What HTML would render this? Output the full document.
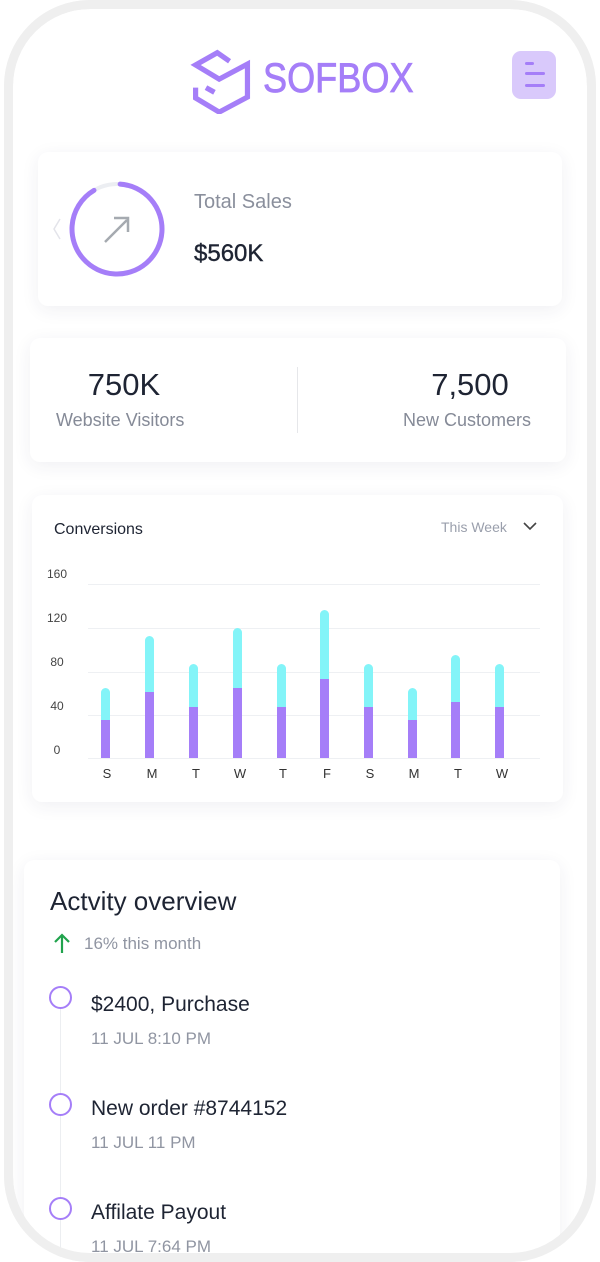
<!DOCTYPE html>
<html><head><meta charset="utf-8"><style>
*{margin:0;padding:0;box-sizing:border-box}
body{width:600px;height:1262px;background:#fff;position:relative;overflow:hidden;font-family:"Liberation Sans",sans-serif}
.abs{position:absolute}
.frame{left:4px;top:0;width:592px;height:1262px;border:9px solid #efefef;border-radius:86px;background:#fff;overflow:hidden}
.card{position:absolute;background:#fff;border-radius:10px;box-shadow:0 4px 18px rgba(40,40,80,0.07)}
.grid{position:absolute;left:88px;width:452px;height:1px;background:#eef0f3}
.yl{position:absolute;left:42px;width:30px;text-align:center;font-size:12px;color:#444}
.bar{position:absolute;width:9px;border-radius:5px 5px 0 0;background:#83f4f8;overflow:hidden}
.bar i{position:absolute;left:0;bottom:0;width:9px;background:#a57ef8}
.xl{position:absolute;top:766px;width:20px;text-align:center;font-size:13px;color:#333}
</style></head><body>
<div class="abs" style="left:0;top:195px;width:5px;height:170px;background:#eee"></div>
<div class="abs" style="left:0;top:445px;width:5px;height:85px;background:#eee"></div>
<div class="abs" style="right:0;top:375px;width:5px;height:80px;background:#eee"></div>
<div class="abs frame"></div>

<!-- logo -->
<svg class="abs" style="left:190px;top:48px" width="64" height="66" viewBox="0 0 64 70">
<g fill="none" stroke="#a57ef8" stroke-width="5.5" stroke-linejoin="miter">
<polyline points="40,14 27,5 4,18 29,33 59,17 59,52 29,68 4,53 4,42"/>
<line x1="15" y1="42" x2="24" y2="47"/>
</g></svg>
<div class="abs" style="left:263px;top:54px;font-size:42px;color:#a57ef8;transform:scaleX(0.86);transform-origin:left top;-webkit-text-stroke:0.8px #a57ef8">SOFBOX</div>
<div class="abs" style="left:512px;top:51px;width:44px;height:48px;border-radius:9px;background:#d9c9fb"></div>
<div class="abs" style="left:525px;top:62px;width:9px;height:3px;border-radius:2px;background:#a57ef8"></div>
<div class="abs" style="left:525px;top:72px;width:20px;height:3px;border-radius:2px;background:#a57ef8"></div>
<div class="abs" style="left:525px;top:84px;width:20px;height:3px;border-radius:2px;background:#a57ef8"></div>

<!-- total sales -->
<div class="card" style="left:38px;top:152px;width:524px;height:154px"></div>
<svg class="abs" style="left:40px;top:176px" width="130" height="108">
<circle cx="77" cy="53" r="45" fill="none" stroke="#eceef2" stroke-width="4"/>
<circle cx="77" cy="53" r="45" fill="none" stroke="#a57ef8" stroke-width="5" stroke-linecap="round" stroke-dasharray="255 28" transform="rotate(-86 77 53)"/>
<path d="M20 43 L14 53 L20 63" fill="none" stroke="#e3e4ea" stroke-width="1.5"/>
<g stroke="#a5aab0" stroke-width="2.5" fill="none"><line x1="65" y1="66" x2="87" y2="44"/><polyline points="74,42 88,42 88,56"/></g>
</svg>
<div class="abs" style="left:194px;top:191px;font-size:20px;color:#8a8f9c">Total Sales</div>
<div class="abs" style="left:194px;top:240px;font-size:24px;color:#1e2433;-webkit-text-stroke:0.4px #1e2433">$560K</div>

<!-- stats -->
<div class="card" style="left:30px;top:338px;width:536px;height:124px"></div>
<div class="abs" style="left:297px;top:367px;width:1px;height:66px;background:#e6e7ea"></div>
<div class="abs" style="left:56px;top:367px;width:136px;text-align:center;font-size:31px;color:#1e2433">750K</div>
<div class="abs" style="left:56px;top:410px;width:150px;font-size:18px;color:#858a97">Website Visitors</div>
<div class="abs" style="left:390px;top:367px;width:160px;text-align:center;font-size:31px;color:#1e2433">7,500</div>
<div class="abs" style="left:403px;top:410px;width:150px;font-size:18px;color:#858a97">New Customers</div>

<!-- chart -->
<div class="card" style="left:32px;top:495px;width:531px;height:307px"></div>
<div class="abs" style="left:54px;top:521px;font-size:16px;color:#1e2433">Conversions</div>
<div class="abs" style="left:441px;top:519px;font-size:14px;color:#9a9fac">This Week</div>
<svg class="abs" style="left:522px;top:520px" width="16" height="12"><polyline points="2,3 8,9 14,3" fill="none" stroke="#444" stroke-width="1.6"/></svg>
<div class="grid" style="top:584px"></div><div class="grid" style="top:628px"></div><div class="grid" style="top:672px"></div><div class="grid" style="top:715px"></div><div class="grid" style="top:758px"></div>
<div class="yl" style="top:567px">160</div><div class="yl" style="top:611px">120</div><div class="yl" style="top:655px">80</div><div class="yl" style="top:699px">40</div><div class="yl" style="top:743px">0</div>

<div class="bar" style="left:101px;top:688px;height:70px"><i style="height:38px"></i></div>
<div class="bar" style="left:145px;top:636px;height:122px"><i style="height:66px"></i></div>
<div class="bar" style="left:189px;top:664px;height:94px"><i style="height:51px"></i></div>
<div class="bar" style="left:233px;top:628px;height:130px"><i style="height:70px"></i></div>
<div class="bar" style="left:277px;top:664px;height:94px"><i style="height:51px"></i></div>
<div class="bar" style="left:320px;top:610px;height:148px"><i style="height:79px"></i></div>
<div class="bar" style="left:364px;top:664px;height:94px"><i style="height:51px"></i></div>
<div class="bar" style="left:408px;top:688px;height:70px"><i style="height:38px"></i></div>
<div class="bar" style="left:451px;top:655px;height:103px"><i style="height:56px"></i></div>
<div class="bar" style="left:495px;top:664px;height:94px"><i style="height:51px"></i></div>
<div class="xl" style="left:97px">S</div><div class="xl" style="left:142px">M</div><div class="xl" style="left:186px">T</div><div class="xl" style="left:230px">W</div><div class="xl" style="left:273px">T</div><div class="xl" style="left:317px">F</div><div class="xl" style="left:360px">S</div><div class="xl" style="left:404px">M</div><div class="xl" style="left:448px">T</div><div class="xl" style="left:492px">W</div>

<!-- activity -->
<div class="card" style="left:24px;top:860px;width:536px;height:400px"></div>
<div class="abs" style="left:50px;top:886px;font-size:26px;color:#1e2433">Actvity overview</div>
<svg class="abs" style="left:52px;top:932px" width="20" height="22"><g stroke="#21a34d" stroke-width="2.2" fill="none"><line x1="10" y1="21" x2="10" y2="3"/><polyline points="3,10 10,3 17,10"/></g></svg>
<div class="abs" style="left:84px;top:934px;font-size:17px;color:#9095a2">16% this month</div>
<div class="abs" style="left:60px;top:1008px;width:1px;height:254px;background:#eceef1"></div>
<div class="abs" style="left:49px;top:986px;width:23px;height:23px;border-radius:50%;border:2.5px solid #a57ef8;background:#fff"></div>
<div class="abs" style="left:49px;top:1093px;width:23px;height:23px;border-radius:50%;border:2.5px solid #a57ef8;background:#fff"></div>
<div class="abs" style="left:49px;top:1197px;width:23px;height:23px;border-radius:50%;border:2.5px solid #a57ef8;background:#fff"></div>
<div class="abs" style="left:91px;top:993px;font-size:21px;color:#1e2433">$2400, Purchase</div>
<div class="abs" style="left:91px;top:1029px;font-size:17px;color:#9095a2">11 JUL 8:10 PM</div>
<div class="abs" style="left:91px;top:1097px;font-size:21px;color:#1e2433">New order #8744152</div>
<div class="abs" style="left:91px;top:1133px;font-size:17px;color:#9095a2">11 JUL 11 PM</div>
<div class="abs" style="left:91px;top:1201px;font-size:21px;color:#1e2433">Affilate Payout</div>
<div class="abs" style="left:91px;top:1237px;font-size:17px;color:#9095a2">11 JUL 7:64 PM</div>
<div class="abs" style="left:4px;top:0;width:592px;height:1262px;border:9px solid #efefef;border-radius:86px;box-shadow:0 0 0 60px #fff;pointer-events:none"></div>
</body></html>
